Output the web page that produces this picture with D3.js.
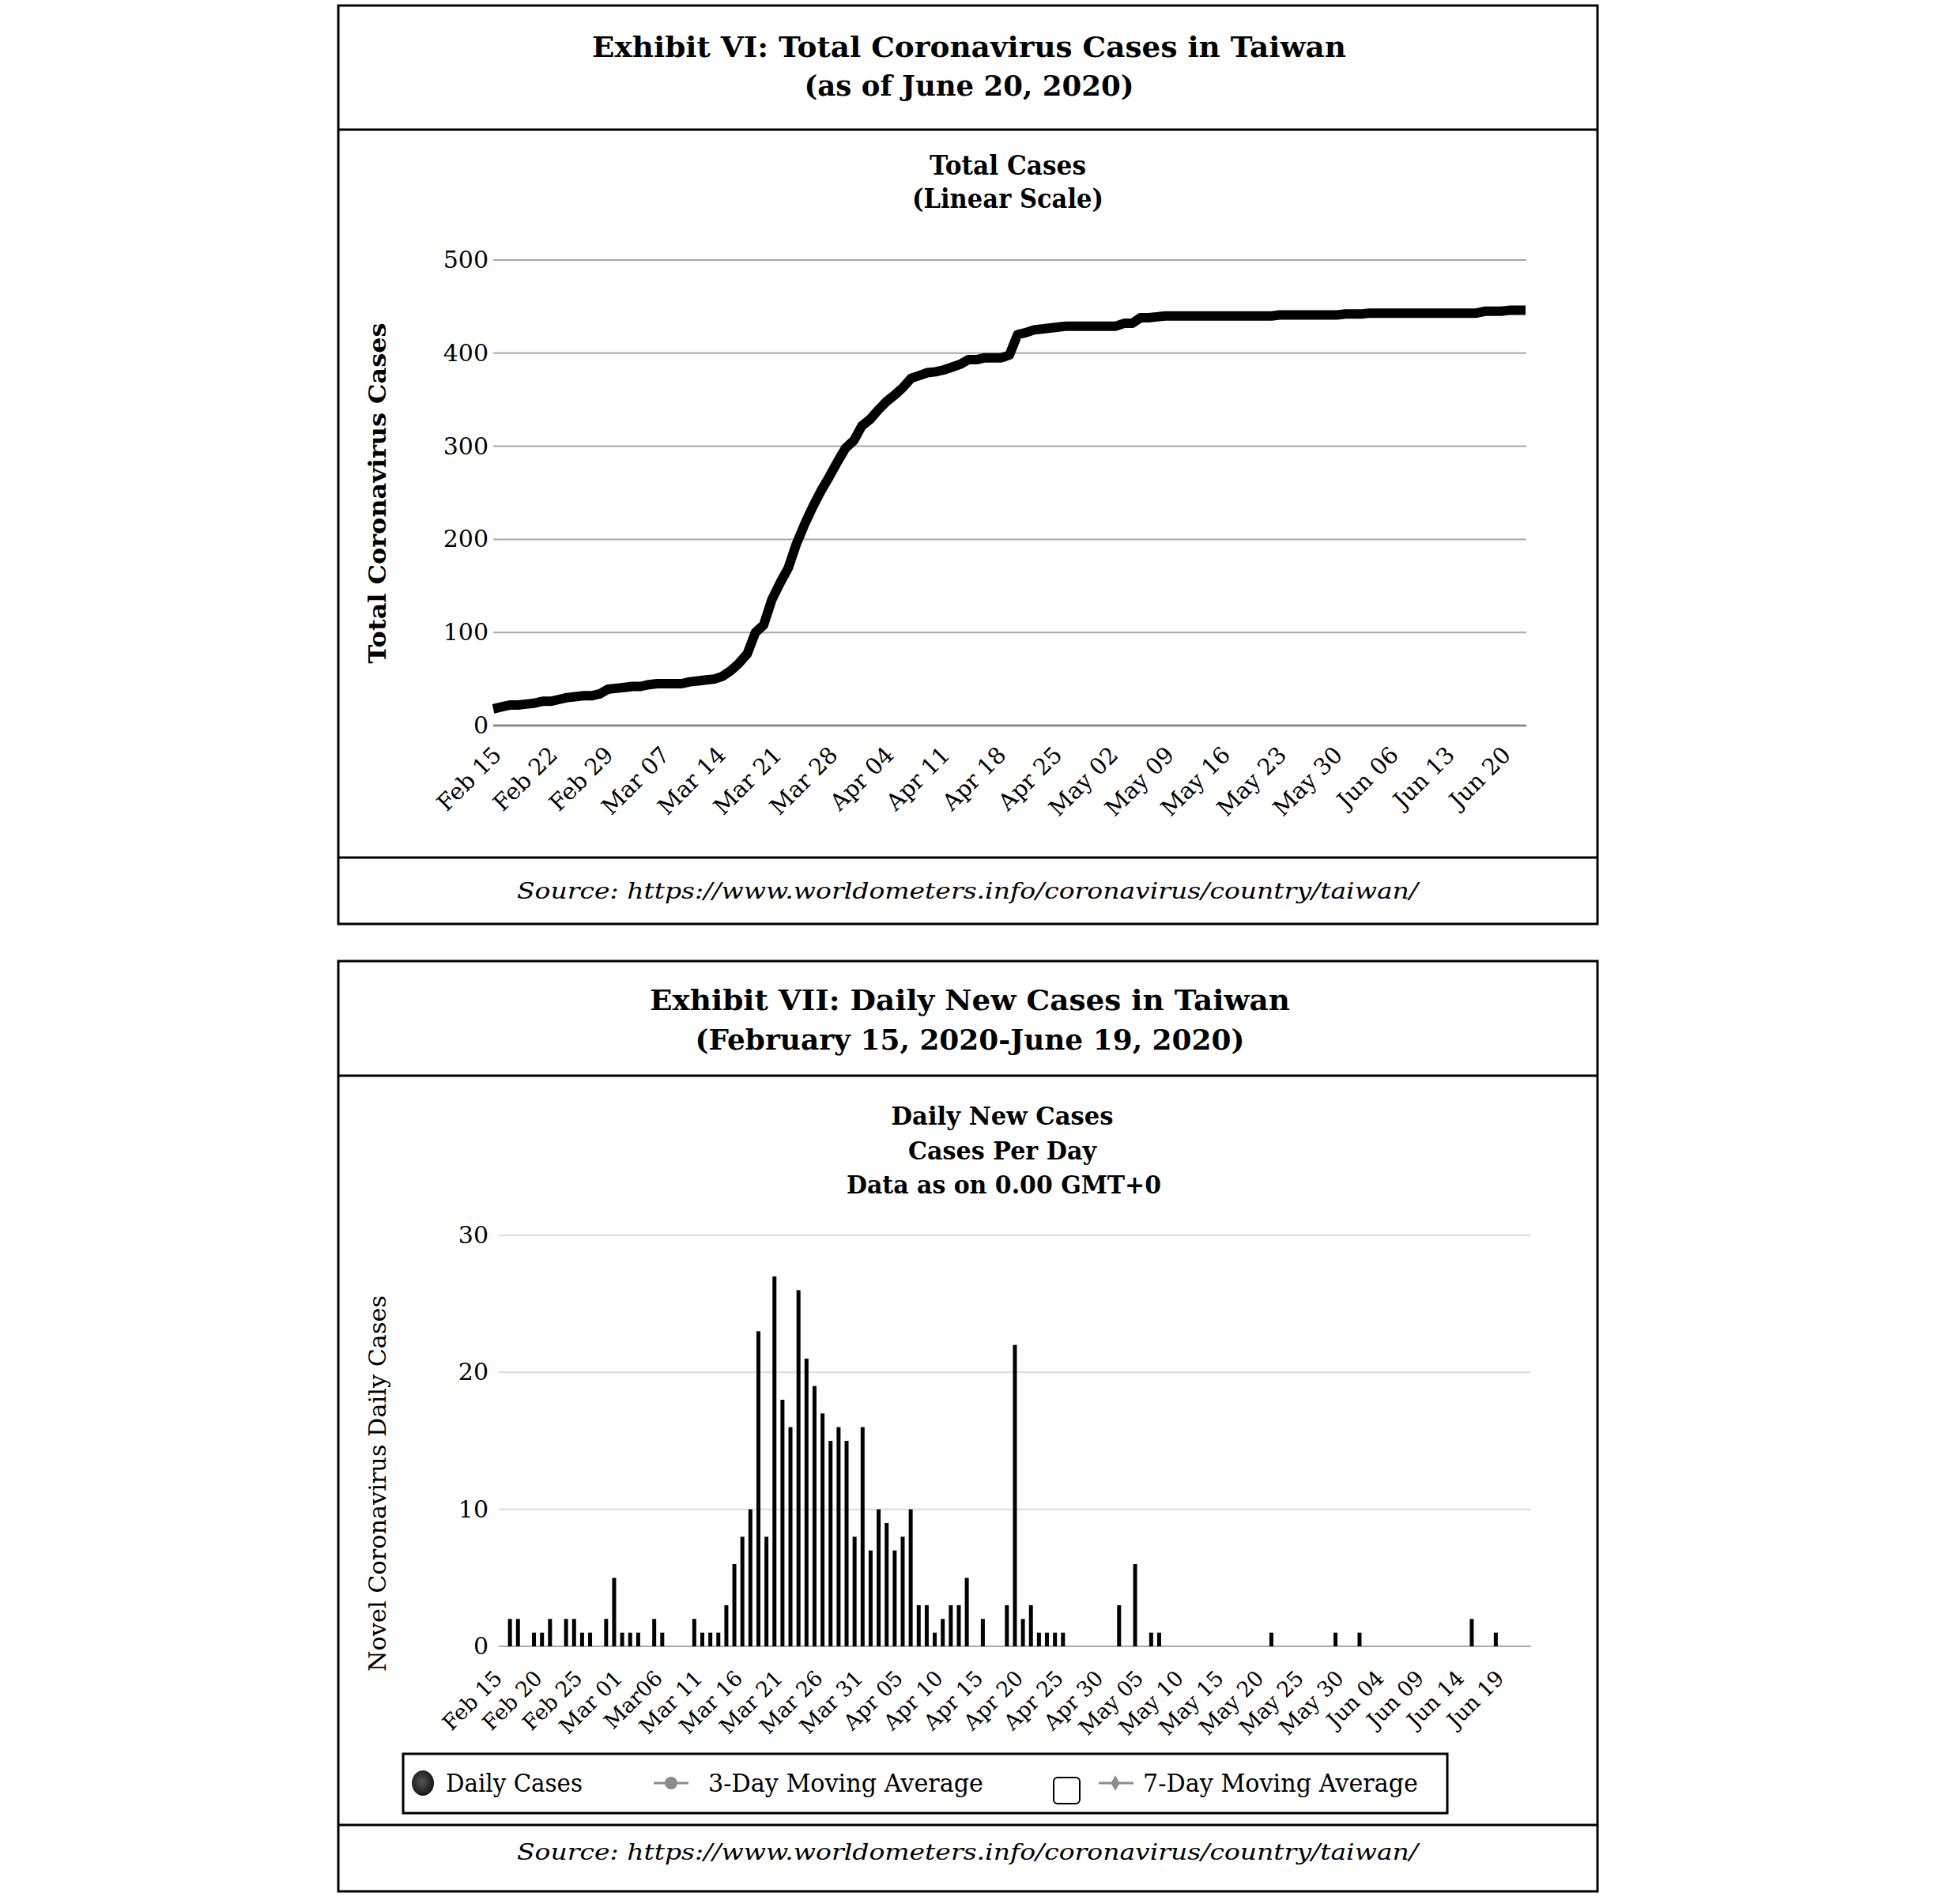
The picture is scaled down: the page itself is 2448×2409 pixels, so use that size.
<!DOCTYPE html>
<html><head><meta charset="utf-8">
<script src="https://cdn.jsdelivr.net/npm/d3@7"></script>
<style>body{margin:0;background:#fff}svg{display:block}</style>
</head><body>
<svg id="c" width="2448" height="2409"></svg>
<script>
// ---------------- DATA ----------------
const startDate = new Date(2020, 1, 15);
// Total cases, Feb 15 – Jun 20, 2020 (one value per day)
const totalCases = [
  18,20,22,22,23,24,26,26,28,30,31,32,32,34,39,
  40,41,42,42,44,45,45,45,45,47,48,49,50,53,59,67,77,100,108,135,153,169,195,216,235,252,267,283,298,306,322,
  329,339,348,355,363,373,376,379,380,382,385,388,393,393,395,395,395,398,420,422,425,426,427,428,429,429,429,429,429,429,
  429,432,432,438,438,439,440,440,440,440,440,440,440,440,440,440,440,440,440,440,441,441,441,441,441,441,441,441,442,442,442,
  443,443,443,443,443,443,443,443,443,443,443,443,443,443,445,445,445,446,446,446
];
// Daily new cases, Feb 15 – Jun 19, 2020
const dailyCases = [
  0,2,2,0,1,1,2,0,2,2,1,1,0,2,5,
  1,1,1,0,2,1,0,0,0,2,1,1,1,3,6,8,10,23,8,27,18,16,26,21,19,17,15,16,15,8,16,
  7,10,9,7,8,10,3,3,1,2,3,3,5,0,2,0,0,3,22,2,3,1,1,1,1,0,0,0,0,0,
  0,3,0,6,0,1,1,0,0,0,0,0,0,0,0,0,0,0,0,0,1,0,0,0,0,0,0,0,1,0,0,
  1,0,0,0,0,0,0,0,0,0,0,0,0,0,2,0,0,1,0
];
const topYTicks = [0, 100, 200, 300, 400, 500];
const topXTickLabels = ["Feb 15","Feb 22","Feb 29","Mar 07","Mar 14","Mar 21","Mar 28","Apr 04","Apr 11","Apr 18","Apr 25","May 02","May 09","May 16","May 23","May 30","Jun 06","Jun 13","Jun 20"];
const bottomYTicks = [0, 10, 20, 30];
const bottomXTickLabels = ["Feb 15","Feb 20","Feb 25","Mar 01","Mar06","Mar 11","Mar 16","Mar 21","Mar 26","Mar 31","Apr 05","Apr 10","Apr 15","Apr 20","Apr 25","Apr 30","May 05","May 10","May 15","May 20","May 25","May 30","Jun 04","Jun 09","Jun 14","Jun 19"];
const legendLabels = ["Daily Cases", "3-Day Moving Average", "7-Day Moving Average"];
const titles = {
  top: ["Exhibit VI: Total Coronavirus Cases in Taiwan", "(as of June 20, 2020)"],
  topSub: ["Total Cases", "(Linear Scale)"],
  topY: "Total Coronavirus Cases",
  bottom: ["Exhibit VII: Daily New Cases in Taiwan", "(February 15, 2020-June 19, 2020)"],
  bottomSub: ["Daily New Cases", "Cases Per Day", "Data as on 0.00 GMT+0"],
  bottomY: "Novel Coronavirus Daily Cases",
  source: "Source:  https://www.worldometers.info/coronavirus/country/taiwan/"
};

// ---------------- DRAW ----------------
const svg = d3.select("#c");
const SERIF = "'DejaVu Serif', 'Liberation Serif', serif";

function text(g, x, y, s, o = {}) {
  const t = g.append("text")
    .attr("x", x).attr("y", y)
    .attr("font-family", SERIF)
    .attr("font-size", o.size || 28)
    .attr("font-weight", o.weight || "normal")
    .attr("font-style", o.style || "normal")
    .attr("text-anchor", o.anchor || "middle")
    .attr("fill", o.fill || "#000")
    .text(s);
  if (o.len) t.attr("textLength", o.len).attr("lengthAdjust", "spacingAndGlyphs");
  if (o.transform) t.attr("transform", o.transform);
  return t;
}

function frame(y0, yHead, ySrc, y1) {
  const g = svg.append("g").attr("fill", "none").attr("stroke", "#000").attr("stroke-width", 3);
  g.append("rect").attr("x", 428).attr("y", y0).attr("width", 2021 - 428).attr("height", y1 - y0);
  g.append("line").attr("x1", 428).attr("x2", 2021).attr("y1", yHead).attr("y2", yHead);
  g.append("line").attr("x1", 428).attr("x2", 2021).attr("y1", ySrc).attr("y2", ySrc);
}

// ===== TOP CHART =====
frame(7, 164, 1085, 1169);
text(svg, 1226, 72, titles.top[0], {size: 35, weight: "bold", len: 954});
text(svg, 1226, 121, titles.top[1], {size: 35, weight: "bold", len: 417});
text(svg, 1275, 221, titles.topSub[0], {size: 33, weight: "bold", len: 198});
text(svg, 1275, 263, titles.topSub[1], {size: 33, weight: "bold", len: 242});

const topDates = totalCases.map((_, i) => d3.timeDay.offset(startDate, i));
const xTop = d3.scaleTime().domain(d3.extent(topDates)).range([624, 1930]);
const yTop = d3.scaleLinear().domain([0, 500]).range([918, 329]);

const gTop = svg.append("g");
gTop.selectAll("line.grid").data(topYTicks).join("line")
  .attr("x1", 624).attr("x2", 1931)
  .attr("y1", d => yTop(d)).attr("y2", d => yTop(d))
  .attr("stroke", d => d === 0 ? "#8a8a8a" : "#a8a8a8")
  .attr("stroke-width", d => d === 0 ? 3 : 2);
gTop.selectAll("text.yl").data(topYTicks).join("text")
  .attr("x", 618).attr("y", d => yTop(d) + 10)
  .attr("text-anchor", "end").attr("font-family", SERIF).attr("font-size", 30)
  .text(d => d);
text(svg, 0, 0, titles.topY, {size: 29, weight: "bold", len: 431, transform: "translate(488,624) rotate(-90)"});

const topLabelPos = d3.scalePoint().domain(topXTickLabels).range([636, 1913]);
gTop.selectAll("text.xl").data(topXTickLabels).join("text")
  .attr("transform", d => `translate(${topLabelPos(d)},957) rotate(-45)`)
  .attr("text-anchor", "end").attr("font-family", SERIF).attr("font-size", 29)
  .text(d => d);

const line = d3.line().x((d, i) => xTop(topDates[i])).y(d => yTop(d));
gTop.append("path").datum(totalCases).attr("d", line)
  .attr("fill", "none").attr("stroke", "#000").attr("stroke-width", 12)
  .attr("stroke-linejoin", "round");

text(svg, 1224, 1137, titles.source, {size: 27, style: "italic", len: 1140});

// ===== BOTTOM CHART =====
frame(1216, 1361, 2309, 2393);
text(svg, 1227, 1278, titles.bottom[0], {size: 35, weight: "bold", len: 810});
text(svg, 1227, 1328, titles.bottom[1], {size: 35, weight: "bold", len: 695});
text(svg, 1268, 1423, titles.bottomSub[0], {size: 32, weight: "bold", len: 281});
text(svg, 1268, 1467, titles.bottomSub[1], {size: 32, weight: "bold", len: 238});
text(svg, 1270, 1510, titles.bottomSub[2], {size: 32, weight: "bold", len: 398});

const dailyDates = dailyCases.map((_, i) => d3.timeDay.offset(startDate, i));
const xBot = d3.scaleTime().domain(d3.extent(dailyDates)).range([635, 635 + 125 * 10.14]);
const yBot = d3.scaleLinear().domain([0, 30]).range([2083, 1563]);

const gBot = svg.append("g");
gBot.selectAll("line.grid").data(bottomYTicks).join("line")
  .attr("x1", 631).attr("x2", 1937)
  .attr("y1", d => yBot(d)).attr("y2", d => yBot(d))
  .attr("stroke", d => d === 0 ? "#aaaaaa" : "#dcdcdc")
  .attr("stroke-width", 2);
gBot.selectAll("text.yl").data(bottomYTicks).join("text")
  .attr("x", 618).attr("y", d => yBot(d) + 10)
  .attr("text-anchor", "end").attr("font-family", SERIF).attr("font-size", 30)
  .text(d => d);
text(svg, 0, 0, titles.bottomY, {size: 29, len: 476, transform: "translate(488,1877) rotate(-90)"});

gBot.selectAll("rect.bar").data(dailyCases.map((v, i) => ({v, d: dailyDates[i]})).filter(o => o.v > 0)).join("rect")
  .attr("x", o => xBot(o.d) - 2.5).attr("width", 5)
  .attr("y", o => yBot(o.v)).attr("height", o => yBot(0) - yBot(o.v))
  .attr("fill", "#000");

gBot.selectAll("text.xl").data(bottomXTickLabels).join("text")
  .attr("transform", (d, i) => `translate(${xBot(d3.timeDay.offset(startDate, 5 * i)) + 2},2125) rotate(-45)`)
  .attr("text-anchor", "end").attr("font-family", SERIF).attr("font-size", 27)
  .text(d => d);

// legend
const defs = svg.append("defs");
const rg = defs.append("radialGradient").attr("id", "ball").attr("cx", "45%").attr("cy", "45%").attr("r", "60%");
rg.append("stop").attr("offset", "0%").attr("stop-color", "#555");
rg.append("stop").attr("offset", "100%").attr("stop-color", "#111");
const gL = svg.append("g");
gL.append("rect").attr("x", 510).attr("y", 2219).attr("width", 1321).attr("height", 75)
  .attr("fill", "none").attr("stroke", "#000").attr("stroke-width", 3);
gL.append("ellipse").attr("cx", 535).attr("cy", 2256).attr("rx", 14).attr("ry", 16).attr("fill", "url(#ball)");
text(gL, 564, 2267, legendLabels[0], {size: 31, anchor: "start", len: 173});
gL.append("line").attr("x1", 827).attr("x2", 871).attr("y1", 2256).attr("y2", 2256).attr("stroke", "#8c8c8c").attr("stroke-width", 3);
gL.append("circle").attr("cx", 849).attr("cy", 2256).attr("r", 8).attr("fill", "#8c8c8c");
text(gL, 896, 2267, legendLabels[1], {size: 31, anchor: "start", len: 348});
gL.append("rect").attr("x", 1333).attr("y", 2249).attr("width", 33).attr("height", 33).attr("rx", 5)
  .attr("fill", "#fff").attr("stroke", "#000").attr("stroke-width", 2);
gL.append("line").attr("x1", 1390).attr("x2", 1434).attr("y1", 2256).attr("y2", 2256).attr("stroke", "#8c8c8c").attr("stroke-width", 3);
gL.append("path").attr("d", d3.symbol(d3.symbolDiamond, 110)()).attr("transform", "translate(1411,2256)").attr("fill", "#8c8c8c");
text(gL, 1446, 2267, legendLabels[2], {size: 31, anchor: "start", len: 348});

text(svg, 1224, 2353, titles.source, {size: 27, style: "italic", len: 1140});
</script>
</body></html>
